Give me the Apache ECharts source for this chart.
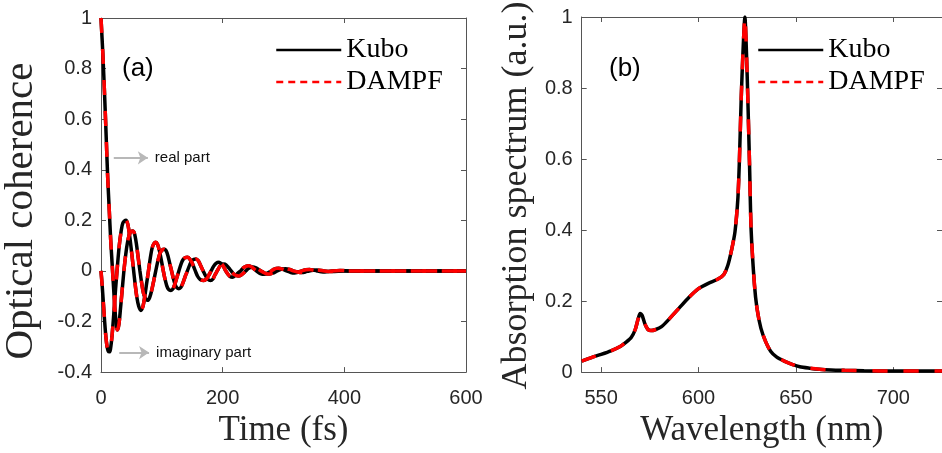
<!DOCTYPE html>
<html><head><meta charset="utf-8">
<script src="https://cdn.jsdelivr.net/npm/echarts@6/dist/echarts.min.js"></script>
<style>html,body{margin:0;padding:0;background:#fff}#c{width:942px;height:453px}</style>
</head><body><div id="c"></div>
<script>
// ---------- Data ----------
// Panel (a): optical coherence vs time (fs)
const realT = [0,3,6,9,11,13.6,16,18.5,21,23.5,25.5,27,29.5,32,35,38.5,42,45,48,52,55,58,61,64,67,70,73,76.5,80,83.5,87,90,93.5,97,100.5,104,107,110,113,116,119,122,125,128,131,135,139,142,146,150,156,160,164,168,172,176,180,184,187,191,195,198,202,206,210,214,218,222,226,230,234,238,242,246,250,255,259,263,268,272,277,282,290,297,303,310,316,323,330,336,342,349,355,367,380,400,450,500,550,600];
const realV = [1.00,0.86,0.69,0.50,0.37,0.24,0.12,0.02,-0.08,-0.17,-0.22,-0.234,-0.21,-0.15,-0.07,0.02,0.09,0.13,0.152,0.158,0.148,0.11,0.055,0.0,-0.05,-0.09,-0.11,-0.116,-0.105,-0.075,-0.035,0.0,0.04,0.07,0.083,0.086,0.08,0.06,0.03,0.0,-0.03,-0.055,-0.067,-0.07,-0.066,-0.045,-0.018,0.0,0.025,0.042,0.047,0.04,0.02,0.0,-0.02,-0.034,-0.038,-0.032,-0.017,0.0,0.017,0.025,0.027,0.023,0.012,0.0,-0.012,-0.018,-0.02,-0.017,-0.009,0.0,0.009,0.014,0.016,0.012,0.006,0.0,-0.007,-0.011,-0.012,-0.009,0.0,0.007,0.009,0.006,0.0,-0.004,-0.006,-0.004,0.0,0.003,0.004,0.0,-0.002,0.0,0.0,0.0,0.0,0.0];
const imagT = [0,2,4,6,8,10,12,13.7,15.5,18,21,24,27,30,33,36,41,44,47,50,53,56,59,62,65.6,69,72,75,78,81,84,87,90,93,96,99,102,105,108,111,115,118,121,124,128,132,135,138,142,146,150,155,159,163,169,174,177,181,185,189,194,199,202,205,209,212,216,221,225,229.5,234,238,243,248,252,255.5,260,264,268,273,276,280,284,288,292,298,305,312,318,324,330,337,343,349,355,362,368,380,393,410,450,500,550,600];
const imagV = [0,-0.06,-0.13,-0.20,-0.26,-0.30,-0.318,-0.32,-0.31,-0.26,-0.17,-0.07,0.02,0.10,0.155,0.19,0.20,0.185,0.14,0.08,0.015,-0.05,-0.105,-0.14,-0.156,-0.14,-0.10,-0.05,0.0,0.05,0.09,0.108,0.113,0.105,0.08,0.045,0.005,-0.03,-0.058,-0.073,-0.077,-0.072,-0.055,-0.032,0.0,0.03,0.045,0.052,0.054,0.047,0.03,0.0,-0.022,-0.034,-0.038,-0.03,-0.018,0.0,0.018,0.03,0.034,0.026,0.015,0.0,-0.014,-0.022,-0.025,-0.018,-0.008,0.0,0.012,0.018,0.02,0.015,0.007,0.0,-0.008,-0.012,-0.013,-0.01,-0.005,0.0,0.006,0.01,0.011,0.007,0.0,-0.006,-0.008,-0.005,0.0,0.005,0.006,0.003,0.0,-0.003,-0.004,0.0,0.002,0.0,0.0,0.0,0.0,0.0];
// DAMPF coincides with Kubo in the picture
const dampfRealV = realV.slice();
const dampfImagV = imagV.slice();

// Panel (b): absorption spectrum vs wavelength (nm)
const wavelength = [540,545,550,555,560,563,565.5,567.5,569,570,571,572.5,574,575.5,578,581,585,590,595,600,605,610,613,615,617,618.7,620.2,621,621.9,622.8,623.8,624.6,625.3,626.2,627,628.7,630,632,634.5,637,640,644,648,652,657,662,668,675,685,700,715,725];
const kuboAbs = [0.031,0.041,0.050,0.060,0.073,0.085,0.098,0.120,0.150,0.165,0.160,0.135,0.120,0.117,0.120,0.128,0.150,0.180,0.210,0.235,0.250,0.262,0.275,0.300,0.345,0.395,0.490,0.600,0.770,0.900,1.000,0.900,0.770,0.580,0.400,0.246,0.180,0.124,0.085,0.059,0.043,0.031,0.022,0.015,0.011,0.008,0.006,0.005,0.004,0.003,0.003,0.003];
const dampfAbs = kuboAbs.slice();

// Tick values
const timeTicks = [0,200,400,600];
const coherenceTicks = [-0.4,-0.2,0,0.2,0.4,0.6,0.8,1];
const wlTicks = [550,600,650,700];
const absTicks = [0,0.2,0.4,0.6,0.8,1];

// ---------- Helpers ----------
const pairs = (xs, ys) => xs.map((x, i) => [x, ys[i]]);
const AX = '#555';
const TXT = '#262626';
const sans = 'Liberation Sans';
const serif = 'Liberation Serif';
const RED = '#ff0000';

function xAx(grid, min, max, ticks, name, top) {
  return {
    gridIndex: grid, type: 'value', min, max, position: top ? 'top' : 'bottom',
    axisLine: { show: true, onZero: false, lineStyle: { color: AX, width: 1 } },
    axisTick: { show: true, inside: true, length: 5, customValues: ticks, lineStyle: { color: AX } },
    axisLabel: { show: !top, customValues: ticks, margin: 16, fontSize: 20, fontFamily: sans, color: TXT },
    splitLine: { show: false },
    name: top ? '' : name, nameLocation: 'middle', nameGap: 37,
    nameTextStyle: { fontFamily: serif, fontSize: 35, color: TXT }
  };
}
function yAx(grid, min, max, ticks, name, right, nameOpts) {
  return Object.assign({
    gridIndex: grid, type: 'value', min, max, position: right ? 'right' : 'left',
    axisLine: { show: true, onZero: false, lineStyle: { color: AX, width: 1 } },
    axisTick: { show: true, inside: true, length: 5, customValues: ticks, lineStyle: { color: AX } },
    axisLabel: { show: !right, customValues: ticks, margin: 9, fontSize: 20, fontFamily: sans, color: TXT },
    splitLine: { show: false },
    name: right ? '' : name, nameLocation: 'middle'
  }, nameOpts || {});
}

const kuboLine = { color: '#000', width: 3.5 };
const dampfLine = { color: RED, width: 3.5, type: [15, 16] };

const arrowMark = (x0, x1, y, text) => ({
  silent: true, symbol: ['none', 'arrow'], symbolSize: [10, 10],
  lineStyle: { color: '#b8b8b8', width: 2, type: 'solid' },
  label: { show: true, position: 'end', formatter: text, color: '#111', fontSize: 15, fontFamily: sans, distance: 7 },
  emphasis: { disabled: true },
  data: [[{ coord: [x0, y] }, { coord: [x1, y] }]]
});

const legendCommon = {
  orient: 'vertical', padding: 0, itemWidth: 65, itemHeight: 14, itemGap: 4,
  textStyle: { fontFamily: serif, fontSize: 28, color: '#000' },
  itemStyle: { opacity: 0 },
  selectedMode: false,
  data: [
    { name: 'Kubo', lineStyle: { color: '#000', width: 2.5, type: 'solid' }, itemStyle: { opacity: 0 } },
    { name: 'DAMPF', lineStyle: { color: RED, width: 2.5, type: [7, 5] }, itemStyle: { opacity: 0 } }
  ]
};

const option = {
  animation: false,
  backgroundColor: '#fff',
  title: [
    { text: '(a)', left: 122, top: 56, padding: 0, textStyle: { fontFamily: sans, fontSize: 26, fontWeight: 'normal', color: '#000' } },
    { text: '(b)', left: 609, top: 56, padding: 0, textStyle: { fontFamily: sans, fontSize: 26, fontWeight: 'normal', color: '#000' } }
  ],
  legend: [
    Object.assign({ left: 275, top: 36 }, legendCommon),
    Object.assign({ left: 757, top: 36 }, legendCommon)
  ],
  grid: [
    { left: 100, top: 18, right: 476, bottom: 79 },
    { left: 581.7, top: 17, right: -6.4, bottom: 78.5 }
  ],
  xAxis: [
    xAx(0, 0, 600, timeTicks, 'Time (fs)', false),
    xAx(0, 0, 600, timeTicks, '', true),
    xAx(1, 540, 725, wlTicks, 'Wavelength (nm)', false),
    xAx(1, 540, 725, wlTicks, '', true)
  ],
  yAxis: [
    yAx(0, -0.4, 1, coherenceTicks, 'Optical coherence', false,
      { nameGap: 59, nameTextStyle: { fontFamily: serif, fontSize: 41, color: TXT, padding: [0, 32, 0, 0] } }),
    yAx(0, -0.4, 1, coherenceTicks, '', true),
    yAx(1, 0, 1, absTicks, 'Absorption spectrum (a.u.)', false,
      { nameGap: 47, nameTextStyle: { fontFamily: serif, fontSize: 36, color: TXT, padding: [0, 2, 0, 0] } }),
    yAx(1, 0, 1, absTicks, '', true)
  ],
  series: [
    { name: 'Kubo', type: 'line', xAxisIndex: 0, yAxisIndex: 0, data: pairs(realT, realV), symbol: 'none', smooth: 0.3, lineStyle: kuboLine, z: 2,
      markLine: arrowMark(21, 77, 0.447, 'real part') },
    { name: 'Kubo', type: 'line', xAxisIndex: 0, yAxisIndex: 0, data: pairs(imagT, imagV), symbol: 'none', smooth: 0.3, lineStyle: kuboLine, z: 2,
      markLine: arrowMark(30, 79, -0.323, 'imaginary part') },
    { name: 'DAMPF', type: 'line', xAxisIndex: 0, yAxisIndex: 0, data: pairs(realT, dampfRealV), symbol: 'none', smooth: 0.3, lineStyle: dampfLine, z: 3 },
    { name: 'DAMPF', type: 'line', xAxisIndex: 0, yAxisIndex: 0, data: pairs(imagT, dampfImagV), symbol: 'none', smooth: 0.3, lineStyle: dampfLine, z: 3 },
    { name: 'Kubo', type: 'line', xAxisIndex: 2, yAxisIndex: 2, data: pairs(wavelength, kuboAbs), symbol: 'none', smooth: 0.25, lineStyle: kuboLine, z: 2 },
    { name: 'DAMPF', type: 'line', xAxisIndex: 2, yAxisIndex: 2, data: pairs(wavelength, dampfAbs), symbol: 'none', smooth: 0.25, lineStyle: dampfLine, z: 3 }
  ]
};

const chart = echarts.init(document.getElementById('c'), null, { renderer: 'canvas', width: 942, height: 453 });
chart.setOption(option);
</script>
</body></html>
